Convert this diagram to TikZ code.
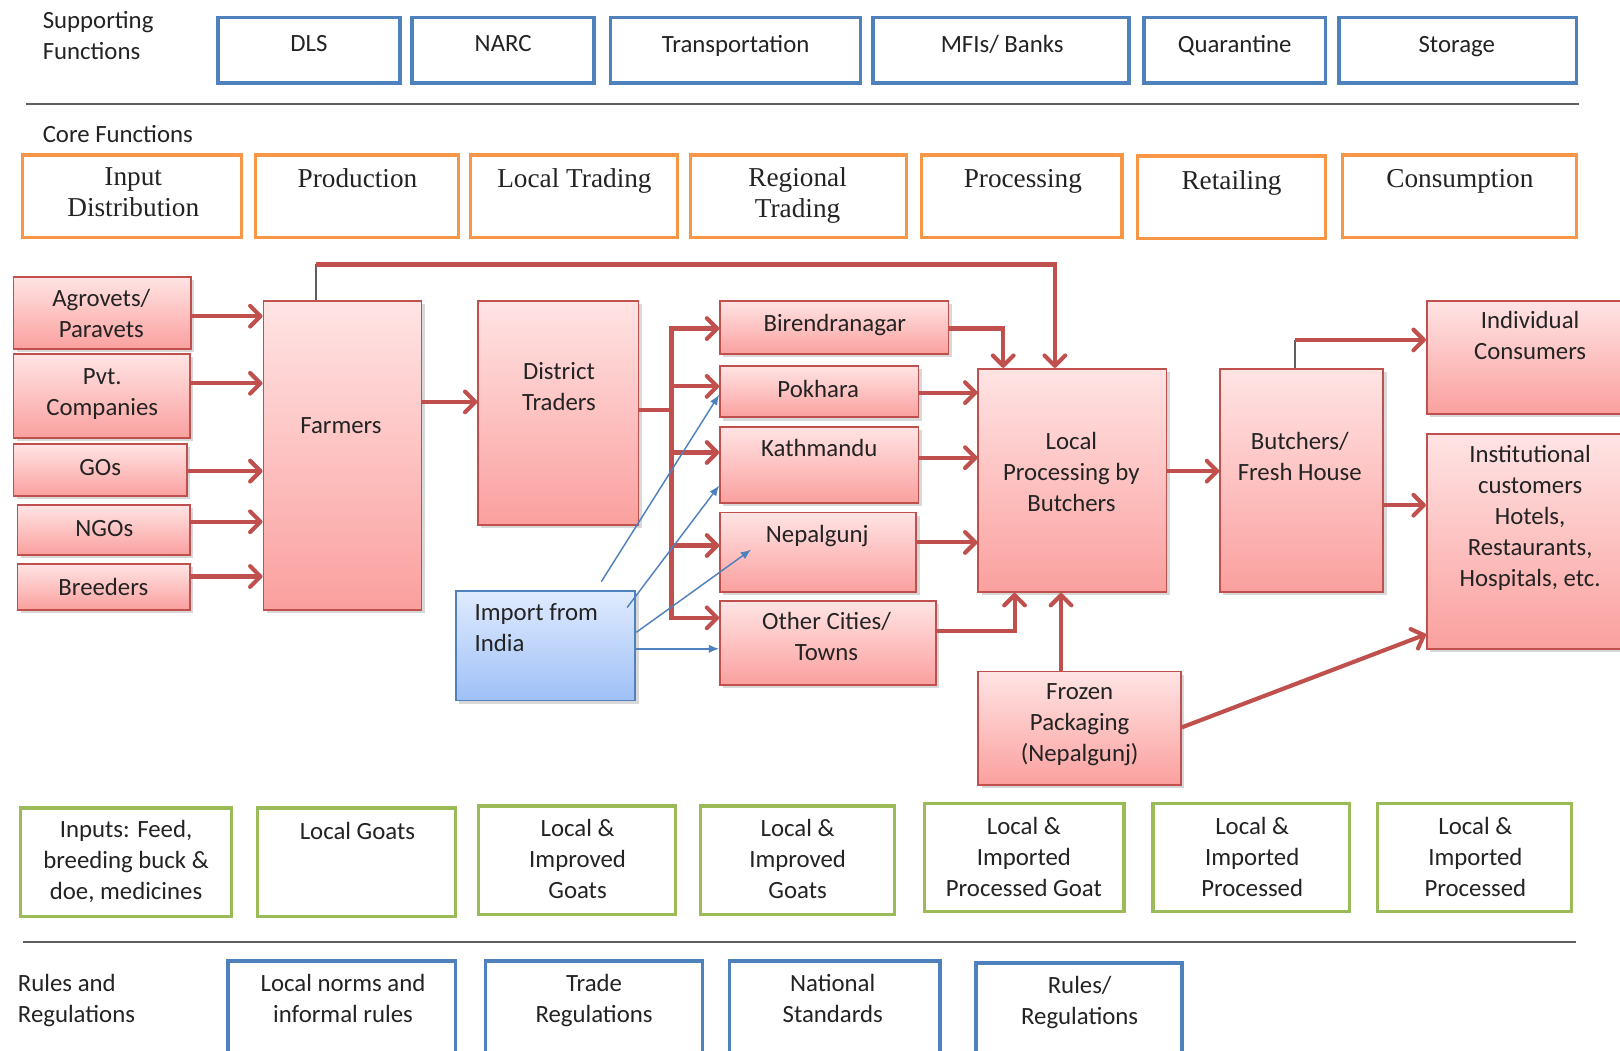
\documentclass[tikz,border=0pt]{standalone}
\usepackage{fontspec}
\setmainfont{Carlito}
\newfontfamily\timesfont{Liberation Serif}
\usetikzlibrary{arrows.meta,fit,shadows}

\definecolor{accblue}{RGB}{79,129,189}
\definecolor{accorange}{RGB}{247,150,70}
\definecolor{accgreen}{RGB}{155,187,89}
\definecolor{accred}{RGB}{192,80,77}
\definecolor{pinktop}{RGB}{255,228,228}
\definecolor{pinkbot}{RGB}{250,160,158}
\definecolor{bluetop}{RGB}{224,235,255}
\definecolor{bluebot}{RGB}{158,192,246}
\definecolor{rulegray}{RGB}{95,95,95}
\definecolor{inkgray}{RGB}{35,35,35}

% box from corner (x1,y1) to corner (x2,y2): style, name, x1, y1, x2, y2
\newcommand\vcbox[6]{%
  \path (#3,#4) coordinate (#2-a) (#5,#6) coordinate (#2-b);
  \node[#1, fit=(#2-a)(#2-b)] (#2) {};}

\begin{document}
\begin{tikzpicture}[x=0.5pt,y=-0.5pt,
  txt/.style={align=center,inner sep=0pt,text=inkgray,font=\fontsize{12}{15}\selectfont,
    yshift=-1.75pt,execute at begin node=\strut,execute at end node=\strut},
  ltxt/.style={txt,align=left,anchor=west},
  serif/.style={txt,font=\timesfont\fontsize{13.2}{15}\selectfont},
  outline/.style={draw,inner sep=0pt,rectangle},
  supbox/.style={outline,draw=accblue,line width=1.8pt},
  corebox/.style={outline,draw=accorange,line width=1.5pt},
  prodbox/.style={outline,draw=accgreen,line width=1.6pt},
  flowbox/.style={outline,draw=accred,line width=0.9pt,top color=pinktop,bottom color=pinkbot,
    drop shadow={shadow xshift=1.5pt,shadow yshift=-1.5pt,opacity=0.3}},
  importbox/.style={flowbox,draw=accblue,top color=bluetop,bottom color=bluebot},
  rline/.style={draw=accred,line width=2pt},
  rarr/.style={rline,-{Straight Barb[length=5pt,width=10pt,round]}},
  barr/.style={draw=accblue,line width=0.7pt,-{Latex[length=5pt,width=4pt]}},
  link/.style={draw=rulegray,line width=1pt},
  sep/.style={draw=rulegray,line width=1pt}
]
\useasboundingbox (0,0) rectangle (1568,1017);
\fill[white] (0,0) rectangle (1568,1017);
\clip (0,0) rectangle (1568,1017);

% ---------- supporting functions ----------
\node[ltxt] (lblsup) at (41,35) {Supporting\\Functions};
\vcbox{supbox}{dls}{211}{17}{387}{80}
\vcbox{supbox}{narc}{399}{17}{575}{80}
\vcbox{supbox}{trans}{591}{17}{833}{80}
\vcbox{supbox}{mfi}{845}{17}{1093}{80}
\vcbox{supbox}{quar}{1107}{17}{1283}{80}
\vcbox{supbox}{stor}{1296}{17}{1526}{80}
\node[txt] (dls-t) at (299,40) {DLS};
\node[txt] (narc-t) at (487,40) {NARC};
\node[txt] (trans-t) at (712,41) {Transportation};
\node[txt] (mfi-t) at (970,41) {MFIs/ Banks};
\node[txt] (quar-t) at (1195,41) {Quarantine};
\node[txt] (stor-t) at (1410,41) {Storage};

\coordinate (sepa-l) at (25,101);
\coordinate (sepa-r) at (1528,101);
\draw[sep] (sepa-l) -- (sepa-r);

% ---------- core functions ----------
\node[ltxt] (lblcore) at (41,128) {Core Functions};
\vcbox{corebox}{inp}{22}{150}{234}{230}
\vcbox{corebox}{prod}{247}{150}{444}{230}
\vcbox{corebox}{ltr}{455}{150}{656}{230}
\vcbox{corebox}{reg}{668}{150}{877}{230}
\vcbox{corebox}{proc}{892}{150}{1086}{230}
\vcbox{corebox}{ret}{1101}{151}{1283}{231}
\vcbox{corebox}{cons}{1299}{150}{1526}{230}
\node[serif] (inp-t) at (129,187) {Input\\Distribution};
\node[serif] (prod-t) at (346,172) {Production};
\node[serif] (ltr-t) at (556,172) {Local Trading};
\node[serif] (reg-t) at (772,187) {Regional\\Trading};
\node[serif] (proc-t) at (990,172) {Processing};
\node[serif] (ret-t) at (1192,174) {Retailing};
\node[serif] (cons-t) at (1413,172) {Consumption};

% ---------- value chain actors ----------
\vcbox{flowbox}{agro}{13}{268}{185}{338}
\vcbox{flowbox}{pvt}{13}{343}{184}{424}
\vcbox{flowbox}{gos}{13}{430}{181}{480}
\vcbox{flowbox}{ngo}{17}{489}{184}{537}
\vcbox{flowbox}{breed}{17}{546}{184}{590}
\vcbox{flowbox}{farm}{255}{291}{408}{590}
\vcbox{flowbox}{dist}{463}{291}{618}{508}
\vcbox{flowbox}{bir}{697}{291}{918}{343}
\vcbox{flowbox}{pok}{697}{354}{889}{404}
\vcbox{flowbox}{kat}{697}{413}{889}{487}
\vcbox{flowbox}{nep}{697}{496}{887}{573}
\vcbox{flowbox}{oth}{697}{582}{906}{663}
\vcbox{flowbox}{lp}{947}{357}{1129}{573}
\vcbox{flowbox}{froz}{947}{650}{1143}{760}
\vcbox{flowbox}{but}{1181}{357}{1339}{573}
\vcbox{flowbox}{ind}{1381}{291}{1590}{401}
\vcbox{flowbox}{inst}{1381}{420}{1590}{628}
\vcbox{importbox}{imp}{441}{572}{615}{678}

\node[txt] (agro-t) at (98,304) {Agrovets/\\Paravets};
\node[txt] (pvt-t) at (99,380) {Pvt.\\Companies};
\node[txt] (gos-t) at (97,451) {GOs};
\node[txt] (ngo-t) at (101,510) {NGOs};
\node[txt] (breed-t) at (100,567) {Breeders};
\node[txt] (farm-t) at (330,410) {Farmers};
\node[txt] (dist-t) at (541,375) {District\\Traders};
\node[txt] (bir-t) at (808,311) {Birendranagar};
\node[txt] (pok-t) at (792,375) {Pokhara};
\node[txt] (kat-t) at (793,432) {Kathmandu};
\node[txt] (nep-t) at (791,516) {Nepalgunj};
\node[txt] (oth-t) at (800,617) {Other Cities/\\Towns};
\node[txt] (lp-t) at (1037,458) {Local\\Processing by\\Butchers};
\node[txt] (froz-t) at (1045,700) {Frozen\\Packaging\\(Nepalgunj)};
\node[txt] (but-t) at (1258,443) {Butchers/\\Fresh House};
\node[txt] (ind-t) at (1481,326) {Individual\\Consumers};
\node[txt] (inst-t) at (1481,500) {Institutional\\customers\\Hotels,\\Restaurants,\\Hospitals, etc.};
\node[ltxt] (imp-t) at (459,608) {Import from\\India};

% levels and bends used by the connectors
\coordinate (y256) at (0,256);
\coordinate (y306) at (0,306);
\coordinate (y318) at (0,318);
\coordinate (y329) at (0,329);
\coordinate (y371) at (0,371);
\coordinate (y374) at (0,374);
\coordinate (y380) at (0,380);
\coordinate (y389) at (0,389);
\coordinate (y397) at (0,397);
\coordinate (y438) at (0,438);
\coordinate (y443) at (0,443);
\coordinate (y456) at (0,456);
\coordinate (y489) at (0,489);
\coordinate (y505) at (0,505);
\coordinate (y525) at (0,525);
\coordinate (y528) at (0,528);
\coordinate (y558) at (0,558);
\coordinate (y598) at (0,598);
\coordinate (y611) at (0,611);
\coordinate (y614) at (0,614);
\coordinate (y704) at (0,704);
\coordinate (x306) at (306,0);
\coordinate (bus) at (650,0);
\coordinate (x971) at (971,0);
\coordinate (x982) at (982,0);
\coordinate (x1021) at (1021,0);
\coordinate (x1027) at (1027,0);
\coordinate (x1253) at (1253,0);

% inputs to farmers
\draw[rarr] (agro.east |- y306) -- (farm.west |- y306);
\draw[rarr] (pvt.east |- y371) -- (farm.west |- y371);
\draw[rarr] (gos.east |- y456) -- (farm.west |- y456);
\draw[rarr] (ngo.east |- y505) -- (farm.west |- y505);
\draw[rarr] (breed.east |- y558) -- (farm.west |- y558);

% farmers onwards
\draw[rarr] (farm.east |- y389) -- (dist.west |- y389);
\draw[link] (farm.north -| x306) -- (x306 |- y256);
\draw[rarr] (x306 |- y256) -| (lp.north -| x1021);

% district traders to regional markets
\draw[rline] (dist.east |- y397) -- (bus |- y397);
\draw[rarr] (bus |- y598) |- (bir.west |- y318);
\draw[rarr] (bus |- y318) |- (oth.west |- y598);
\draw[rarr] (bus |- y374) -- (pok.west |- y374);
\draw[rarr] (bus |- y438) -- (kat.west |- y438);
\draw[rarr] (bus |- y528) -- (nep.west |- y528);

% regional markets to local processing
\draw[rarr] (bir.east |- y318) -| (lp.north -| x971);
\draw[rarr] (pok.east |- y380) -- (lp.west |- y380);
\draw[rarr] (kat.east |- y443) -- (lp.west |- y443);
\draw[rarr] (nep.east |- y525) -- (lp.west |- y525);
\draw[rarr] (oth.east |- y611) -| (lp.south -| x982);
\draw[rarr] (froz.north -| x1027) -- (lp.south -| x1027);

% retail and consumption
\draw[rarr] (lp.east |- y456) -- (but.west |- y456);
\draw[link] (but.north -| x1253) -- (x1253 |- y329);
\draw[rarr] (x1253 |- y329) -- (ind.west |- y329);
\draw[rarr] (but.east |- y489) -- (inst.west |- y489);
\draw[rarr] (froz.east |- y704) -- (inst.west |- y614);

% imports
\coordinate (imp1) at (582,563);
\coordinate (imp2) at (607,588);
\coordinate (nep-in) at (727,532);
\coordinate (y382) at (0,382);
\coordinate (y470) at (0,470);
\coordinate (y612) at (0,612);
\coordinate (y628) at (0,628);
\draw[barr] (imp1) -- (pok.west |- y382);
\draw[barr] (imp2) -- (kat.west |- y470);
\draw[barr] (imp.east |- y612) -- (nep-in);
\draw[barr] (imp.east |- y628) -- (oth.west |- y628);

% ---------- products ----------
\vcbox{prodbox}{g1}{20}{782}{224}{887}
\vcbox{prodbox}{g2}{249}{782}{441}{887}
\vcbox{prodbox}{g3}{463}{780}{654}{885}
\vcbox{prodbox}{g4}{678}{780}{866}{885}
\vcbox{prodbox}{g5}{895}{778}{1088}{882}
\vcbox{prodbox}{g6}{1116}{778}{1306}{882}
\vcbox{prodbox}{g7}{1333}{778}{1521}{882}
\node[txt] (g1-t) at (122,833) {Inputs: Feed,\\breeding buck \&\\doe, medicines};
\node[txt] (g2-t) at (346,803) {Local Goats};
\node[txt] (g3-t) at (559,832) {Local \&\\Improved\\Goats};
\node[txt] (g4-t) at (772,832) {Local \&\\Improved\\Goats};
\node[txt] (g5-t) at (991,830) {Local \&\\Imported\\Processed Goat};
\node[txt] (g6-t) at (1212,830) {Local \&\\Imported\\Processed};
\node[txt] (g7-t) at (1428,830) {Local \&\\Imported\\Processed};

\coordinate (sepb-l) at (22,912);
\coordinate (sepb-r) at (1525,912);
\draw[sep] (sepb-l) -- (sepb-r);

% ---------- rules and regulations ----------
\node[ltxt] (lblrules) at (17,967) {Rules and\\Regulations};
\vcbox{supbox}{b1}{221}{930}{441}{1040}
\vcbox{supbox}{b2}{470}{930}{680}{1040}
\vcbox{supbox}{b3}{706}{930}{910}{1040}
\vcbox{supbox}{b4}{945}{932}{1144}{1040}
\node[txt] (b1-t) at (332,967) {Local norms and\\informal rules};
\node[txt] (b2-t) at (575,967) {Trade\\Regulations};
\node[txt] (b3-t) at (806,967) {National\\Standards};
\node[txt] (b4-t) at (1045,969) {Rules/\\Regulations};
\end{tikzpicture}
\end{document}
